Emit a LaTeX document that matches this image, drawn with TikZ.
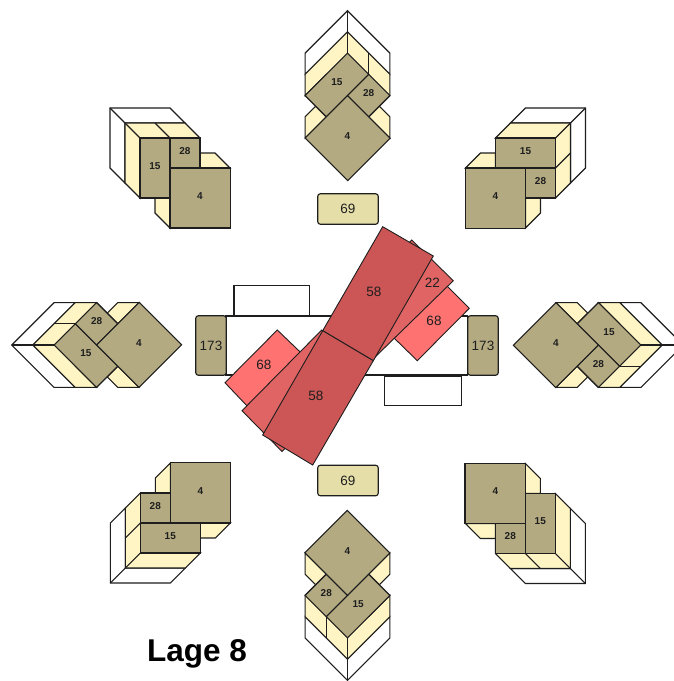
\documentclass[tikz,border=0pt]{standalone}
\usepackage{fontspec}
\setmainfont{Liberation Sans}
\definecolor{faceol}{HTML}{B3AA82}
\definecolor{paleyel}{HTML}{FFF5C4}
\definecolor{tanbox}{HTML}{E6DEA8}
\definecolor{redA}{HTML}{CC5555}
\definecolor{redB}{HTML}{E06464}
\definecolor{redC}{HTML}{FF7272}
\definecolor{ink}{HTML}{1E1E1E}
\tikzset{
  edge/.style={draw=ink,line width=1.1pt,line join=miter},
  whiteface/.style={edge,fill=white},
  yelface/.style={edge,fill=paleyel},
  oliveface/.style={edge,fill=faceol},
  smalllab/.style={font=\fontsize{10}{10}\selectfont\bfseries,inner sep=0pt,text height=7pt,text depth=5pt,text=ink},
  midlab/.style={font=\fontsize{13.5}{14}\selectfont,inner sep=0pt,text=ink},
  tanbase/.style={edge,rounded corners=2.5pt,inner sep=0pt,font=\fontsize{13.5}{14}\selectfont,text=ink},
  ninebox/.style={tanbase,fill=tanbox,minimum width=60.5pt,minimum height=30.5pt},
  sidebox/.style={tanbase,fill=faceol,minimum width=30.5pt,minimum height=59.5pt},
  redpoly/.style={draw=ink,line width=0.9pt},
  cubeview/.pic={
    % white back
    \path[whiteface] (-90,-90) -- (-30,-90) -- (-15,-75) -- (-75,-75) -- (-75,-15) -- (-90,-30) -- cycle;
    \path[edge] (-90,-90) -- (-75,-75);
    % yellow sides
    \path[yelface] (-75,-75) -- (-15,-75) -- (0,-60) -- (0,-30) -- (-60,-30) -- (-60,0) -- (-75,-15) -- cycle;
    \path[edge] (-75,-75) -- (-60,-60);
    \path[edge] (-45,-75) -- (-30,-60);
    \path[yelface] (0,-30) -- (0,-45) -- (15,-45) -- (30,-30) -- cycle;
    \path[yelface] (-45,0) -- (-45,15) -- (-30,30) -- (-30,0) -- cycle;
    % front faces
    \path[oliveface] (-60,-60) rectangle (-30,0);
    \path[oliveface] (-30,-60) rectangle (0,-30);
    \path[oliveface] (-30,-30) rectangle (30.3,30);
    \node[smalllab] (-fifteen) at (-45,-30) {15};
    \node[smalllab] (-twentyeight) at (-15,-45) {28};
    \node[smalllab] (-four) at (0,0) {4};
  }
}
\begin{document}
\begin{tikzpicture}[x=1pt,y=-1pt]
\useasboundingbox (0,0) rectangle (674,681);
\fill[white] (0,0) rectangle (674,681);
% eight views
\pic (vl)  [rotate=45]   at (139,345)   {cubeview};
\pic (vtl) [rotate=0]    at (200,198)   {cubeview};
\pic (vt)  [rotate=-45]  at (347.5,138) {cubeview};
\pic (vtr) [rotate=-90]  at (495.5,198) {cubeview};
\pic (vr)  [rotate=-135] at (556,345)   {cubeview};
\pic (vbr) [rotate=180]  at (495.3,493.5) {cubeview};
\pic (vb)  [rotate=135]  at (347.5,553) {cubeview};
\pic (vbl) [rotate=90]   at (200.3,493) {cubeview};
% boxes
\node[ninebox] (ninetop) at (348,209) {69};
\node[ninebox] (ninebot) at (348,480.5) {69};
% central white table
\draw[edge,fill=white] (234,285.7) rectangle (309.3,316);
\draw[edge,fill=white] (384.3,376) rectangle (461.7,405.7);
\draw[edge,fill=white] (226,316) rectangle (467.7,375);
\node[sidebox] (sideleft) at (211,345.5) {173};
\node[sidebox] (sideright) at (483,345.5) {173};
% red strips
\draw[redpoly,fill=redC] (469.3,308.3) -- (446,285) -- (393,337) -- (417.3,360.7) -- cycle;
\draw[redpoly,fill=redC] (277.3,330) -- (303,354.7) -- (249,408) -- (225,382.7) -- cycle;
\draw[redpoly,fill=redB] (411.7,240) -- (453.3,280.7) -- (370,362) -- (328,323) -- cycle;
\draw[redpoly,fill=redB] (242,410.7) -- (282,451.5) -- (362,371) -- (321.7,330) -- cycle;
\draw[redpoly,fill=redA] (382.7,226.7) -- (433.3,256) -- (373.3,360.7) -- (322.7,330.7) -- cycle;
\draw[redpoly,fill=redA] (322.7,330.7) -- (373.3,360.7) -- (312.7,465) -- (262.7,435) -- cycle;
\node[midlab] (stripA) at (374,291.7) {58};
\node[midlab] (stripB) at (316,396) {58};
\node[midlab] (stripC) at (432.3,282.7) {22};
\node[midlab] (stripD) at (434,321) {68};
\node[midlab] (stripE) at (264,365) {68};
\node[font=\fontsize{31.5}{33}\selectfont\bfseries,inner sep=0pt,text=black] (title) at (197,654) {Lage 8};
\end{tikzpicture}
\end{document}
